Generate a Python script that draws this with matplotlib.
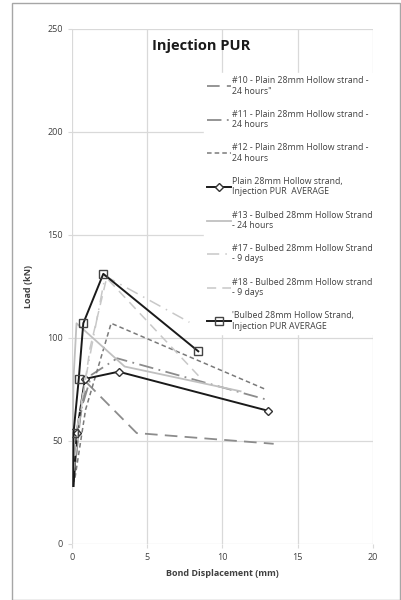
import matplotlib
matplotlib.use("Agg")
import matplotlib.pyplot as plt
from matplotlib.patches import Rectangle

plt.rcParams['font.family'] = ['Open Sans', 'DejaVu Sans']

# bond displacement (mm) / load (kN)
x10 = [0.1, 0.5, 1.0, 4.3, 13.4]
y10 = [30, 60, 78, 53.7, 48.5]
x11 = [0.1, 0.6, 1.3, 3.0, 12.9]
y11 = [30, 65, 82, 90, 70]
x12 = [0.2, 0.9, 2.6, 12.9]
y12 = [32, 65, 107, 74.8]
x_plain = [0.1, 0.31, 0.86, 3.1, 13.04]
y_plain = [28, 53.7, 80, 83.5, 64.5]
x13 = [0.0, 0.1, 0.3, 3.5, 11.2]
y13 = [28, 80, 107, 86, 74]
x17 = [0.0, 0.3, 0.9, 2.2, 7.8]
y17 = [30, 55, 80, 130, 107.5]
x18 = [0.0, 0.5, 1.2, 2.3, 8.6]
y18 = [28, 60, 95, 129, 80]
x_bulb = [0.08, 0.1, 0.45, 0.75, 2.08, 8.39]
y_bulb = [28, 53.7, 80, 107, 131, 93.4]

labels = [
    '#10 - Plain 28mm Hollow strand -\n24 hours"',
    '#11 - Plain 28mm Hollow strand -\n24 hours',
    '#12 - Plain 28mm Hollow strand -\n24 hours',
    'Plain 28mm Hollow strand,\nInjection PUR  AVERAGE',
    '#13 - Bulbed 28mm Hollow Strand\n- 24 hours',
    '#17 - Bulbed 28mm Hollow Strand\n- 9 days',
    '#18 - Bulbed 28mm Hollow strand\n- 9 days',
    "'Bulbed 28mm Hollow Strand,\nInjection PUR AVERAGE",
]

fig = plt.figure(figsize=(4.02, 6.0), dpi=100)
ax = fig.add_axes([72/402, 1-543.7/600, 301/402, 515/600])

ax.plot(x10, y10, color='#8c8c8c', lw=1.3, ls=(0, (7, 4)), label=labels[0])
ax.plot(x11, y11, color='#8c8c8c', lw=1.3, ls=(0, (8, 3, 1, 3)), label=labels[1])
ax.plot(x12, y12, color='#7a7a7a', lw=1.1, ls=(0, (3, 2)), label=labels[2])
ax.plot(x_plain, y_plain, color='#1a1a1a', lw=1.4, marker='D', ms=4.5,
        mfc='white', mec='#333333', markevery=[1, 2, 3, 4], label=labels[3])
ax.plot(x13, y13, color='#c0c0c0', lw=1.3, label=labels[4])
ax.plot(x17, y17, color='#c8c8c8', lw=1.1, ls=(0, (8, 4, 1, 4)), label=labels[5])
ax.plot(x18, y18, color='#c8c8c8', lw=1.1, ls=(0, (6, 4)), label=labels[6])
ax.plot(x_bulb, y_bulb, color='#1a1a1a', lw=1.4, marker='s', ms=6,
        mfc='none', mec='#444444', markevery=[1, 2, 3, 4, 5], label=labels[7])

ax.set_xlim(0, 20)
ax.set_ylim(0, 250)
ax.set_xticks([0, 5, 10, 15, 20])
ax.set_yticks([0, 50, 100, 150, 200, 250])
ax.grid(True, color='#d9d9d9', lw=0.9)
ax.set_axisbelow(True)
for s in ax.spines.values():
    s.set_visible(False)
ax.tick_params(colors='#d9d9d9', labelcolor='#404040', labelsize=6.5,
               length=3, width=0.8)

ax.set_xlabel('Bond Displacement (mm)', fontsize=6.5, fontweight='bold',
              color='#404040', labelpad=5)
ax.set_ylabel('Load (kN)', fontsize=6.5, fontweight='bold', color='#404040',
              labelpad=10)

leg = ax.legend(loc='upper left', bbox_to_anchor=(132/301, 1 - 44/515),
                fontsize=6.3, frameon=True, fancybox=False, framealpha=1,
                edgecolor='white', handlelength=2.7, handletextpad=0.15,
                labelspacing=1.62, borderpad=0.4, borderaxespad=0)
for t in leg.get_texts():
    t.set_color('#404040')

fig.text(201/402, 1-46/600, 'Injection PUR', fontsize=10.5, fontweight='bold',
         color='#1a1a1a', ha='center', va='center')

fig.patches.append(Rectangle((12/402, 0), 388/402, 1-3/600,
                             transform=fig.transFigure, fill=False,
                             edgecolor='#a6a6a6', lw=1.0))

fig.savefig('out.png', dpi=100)
